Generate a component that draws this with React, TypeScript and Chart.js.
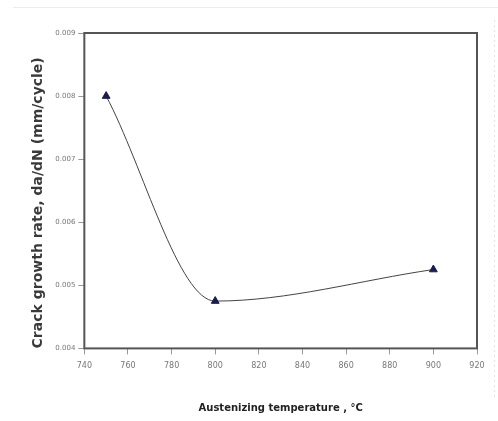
import React, { useEffect, useRef } from "react";
import { Chart, registerables } from "chart.js";

Chart.register(...registerables);

const temperatures = [750, 800, 900];
const crackGrowthRate = [0.008, 0.00475, 0.00525];
const xTicks = [740, 760, 780, 800, 820, 840, 860, 880, 900, 920];
const yTicks = [0.004, 0.005, 0.006, 0.007, 0.008, 0.009];
const xTitle = "Austenizing temperature , °C";
const yTitle = "Crack growth rate, da/dN (mm/cycle)";

const framePlugin = {
  id: "frame",
  beforeDraw(chart: any) {
    const { ctx, width, height } = chart;
    ctx.save();
    ctx.fillStyle = "#ffffff";
    ctx.fillRect(0, 0, width, height);
    ctx.strokeStyle = "#ececec";
    ctx.lineWidth = 1;
    ctx.beginPath();
    ctx.moveTo(13, 7.5);
    ctx.lineTo(width, 7.5);
    ctx.stroke();
    ctx.setLineDash([2, 3]);
    ctx.strokeStyle = "#e2e2e2";
    ctx.beginPath();
    ctx.moveTo(494.5, 20);
    ctx.lineTo(494.5, 400);
    ctx.stroke();
    ctx.restore();
  },
  afterDatasetsDraw(chart: any) {
    const { ctx, chartArea } = chart;
    ctx.save();
    ctx.strokeStyle = "#555555";
    ctx.lineWidth = 2;
    ctx.strokeRect(
      chartArea.left,
      chartArea.top,
      chartArea.right - chartArea.left,
      chartArea.bottom - chartArea.top
    );
    ctx.restore();
  },
};

export default function App() {
  const ref = useRef<HTMLCanvasElement | null>(null);
  useEffect(() => {
    if (!ref.current) return;
    const chart = new Chart(ref.current, {
      type: "line",
      data: {
        datasets: [
          {
            data: temperatures.map((t, i) => ({ x: t, y: crackGrowthRate[i] })),
            borderColor: "#444444",
            borderWidth: 1,
            cubicInterpolationMode: "monotone",
            pointStyle: "triangle",
            pointRadius: 4.5,
            pointBackgroundColor: "#1c1c4c",
            pointBorderColor: "#1c1c4c",
            fill: false,
          },
        ],
      },
      plugins: [framePlugin],
      options: {
        animation: false,
        responsive: false,
        layout: { padding: { top: 33, right: 21, bottom: 7, left: 29.5 } },
        plugins: { legend: { display: false }, tooltip: { enabled: false } },
        scales: {
          x: {
            type: "linear",
            min: 740,
            max: 920,
            afterBuildTicks: (axis: any) => {
              axis.ticks = xTicks.map((v) => ({ value: v }));
            },
            grid: {
              display: true,
              drawOnChartArea: false,
              drawTicks: true,
              tickLength: 6,
              color: "#999999",
            },
            border: { display: false },
            ticks: {
              color: "#777777",
              font: { family: "DejaVu Sans", size: 8 },
              padding: 7,
              maxRotation: 0,
              callback: (v: any) => String(v),
            },
            title: {
              display: true,
              text: xTitle,
              color: "#222222",
              font: { family: "DejaVu Sans", size: 10, weight: "bold" },
              padding: { top: 24, bottom: 0 },
            },
          },
          y: {
            type: "linear",
            min: 0.004,
            max: 0.009,
            afterBuildTicks: (axis: any) => {
              axis.ticks = yTicks.map((v) => ({ value: v }));
            },
            grid: {
              display: true,
              drawOnChartArea: false,
              drawTicks: true,
              tickLength: 6,
              color: "#999999",
            },
            border: { display: false },
            ticks: {
              color: "#777777",
              font: { family: "DejaVu Sans", size: 7 },
              padding: 3,
              callback: (v: any) => Number(v).toFixed(3),
            },
            title: {
              display: true,
              text: yTitle,
              align: "start",
              color: "#3a3a3a",
              font: { family: "DejaVu Sans", size: 14, weight: "bold" },
              padding: { top: 0, bottom: 6 },
            },
          },
        },
      },
    });
    return () => chart.destroy();
  }, []);
  return (
    <div style={{ position: "fixed", left: 0, top: 0, width: 498, height: 421, background: "#fff" }}>
      <canvas ref={ref} width={498} height={421} style={{ display: "block" }} />
    </div>
  );
}
